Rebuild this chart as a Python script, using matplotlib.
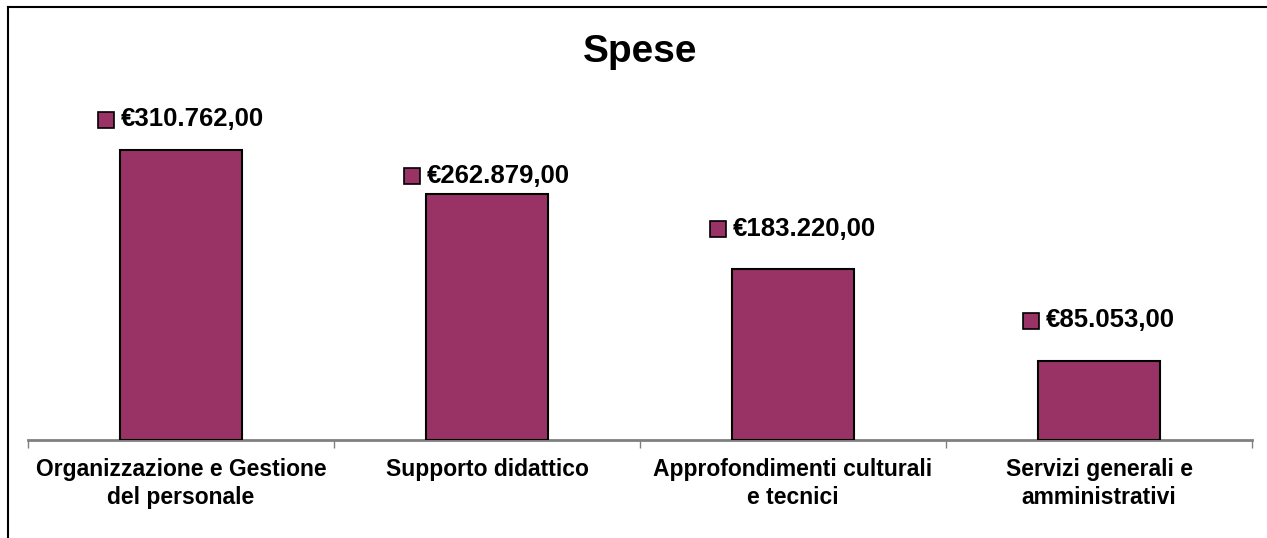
import matplotlib
matplotlib.use("Agg")
import matplotlib.pyplot as plt
from matplotlib.offsetbox import AnnotationBbox, DrawingArea, HPacker, TextArea
from matplotlib.patches import Rectangle
from matplotlib.lines import Line2D

plt.rcParams['font.family'] = ['Liberation Sans', 'DejaVu Sans']

categories = ['Organizzazione e Gestione\ndel personale', 'Supporto didattico',
              'Approfondimenti culturali\ne tecnici', 'Servizi generali e\namministrativi']
values = [310762, 262879, 183220, 85053]
value_labels = ['€310.762,00', '€262.879,00', '€183.220,00', '€85.053,00']

bar_color = '#993366'
# how far above each bar the data label sits (points), as placed in the original
label_offsets = [22, 13.5, 29, 29]

fig = plt.figure(figsize=(12.67, 5.38), dpi=100)
ax = fig.add_axes([28 / 1267, 98 / 538, 1224 / 1267, 340 / 538])

x = range(len(values))
ax.bar(x, values, width=0.4, color=bar_color, edgecolor='black', linewidth=1.5, zorder=3)
ax.set_xlim(-0.5, len(values) - 0.5)
ax.set_ylim(0, 364000)

# only a grey category axis
for s in ['left', 'right', 'top']:
    ax.spines[s].set_visible(False)
ax.spines['bottom'].set_color('#808080')
ax.spines['bottom'].set_linewidth(2)
ax.set_yticks([])
ax.set_xticks([i + 0.5 for i in range(-1, len(values))], minor=False)
ax.set_xticklabels([''] * (len(values) + 1))
ax.tick_params(axis='x', length=6, width=1, color='#808080', direction='out')
for i, lab in enumerate(categories):
    ax.annotate(lab, (i, 0), xytext=(0, -13), textcoords='offset points',
                ha='center', va='top', fontsize=16.5, fontweight='bold',
                linespacing=1.3, annotation_clip=False)

# data labels with legend key
for i, (v, lab) in enumerate(zip(values, value_labels)):
    da = DrawingArea(12, 12, 0, 0)
    da.add_artist(Rectangle((0, 0), 11.5, 11.5, facecolor=bar_color, edgecolor='black', linewidth=1.2))
    ta = TextArea(lab, textprops=dict(fontsize=18.5, fontweight='bold'))
    box = HPacker(children=[da, ta], align='center', pad=0, sep=4)
    ab = AnnotationBbox(box, (i, v), xybox=(0, label_offsets[i]), boxcoords='offset points',
                        frameon=False, box_alignment=(0.5, 0.5), annotation_clip=False)
    ax.add_artist(ab)

fig.text(640 / 1267, 1 - 52 / 538, 'Spese', ha='center', va='center',
         fontsize=28, fontweight='bold')

# chart frame (cropped: only left and top edges visible)
fig.add_artist(Line2D([8 / 1267, 8 / 1267], [0, 1 - 7 / 538], color='black', linewidth=1.5))
fig.add_artist(Line2D([8 / 1267, 1], [1 - 7 / 538, 1 - 7 / 538], color='black', linewidth=1.5))

fig.savefig('out.png', dpi=100)
